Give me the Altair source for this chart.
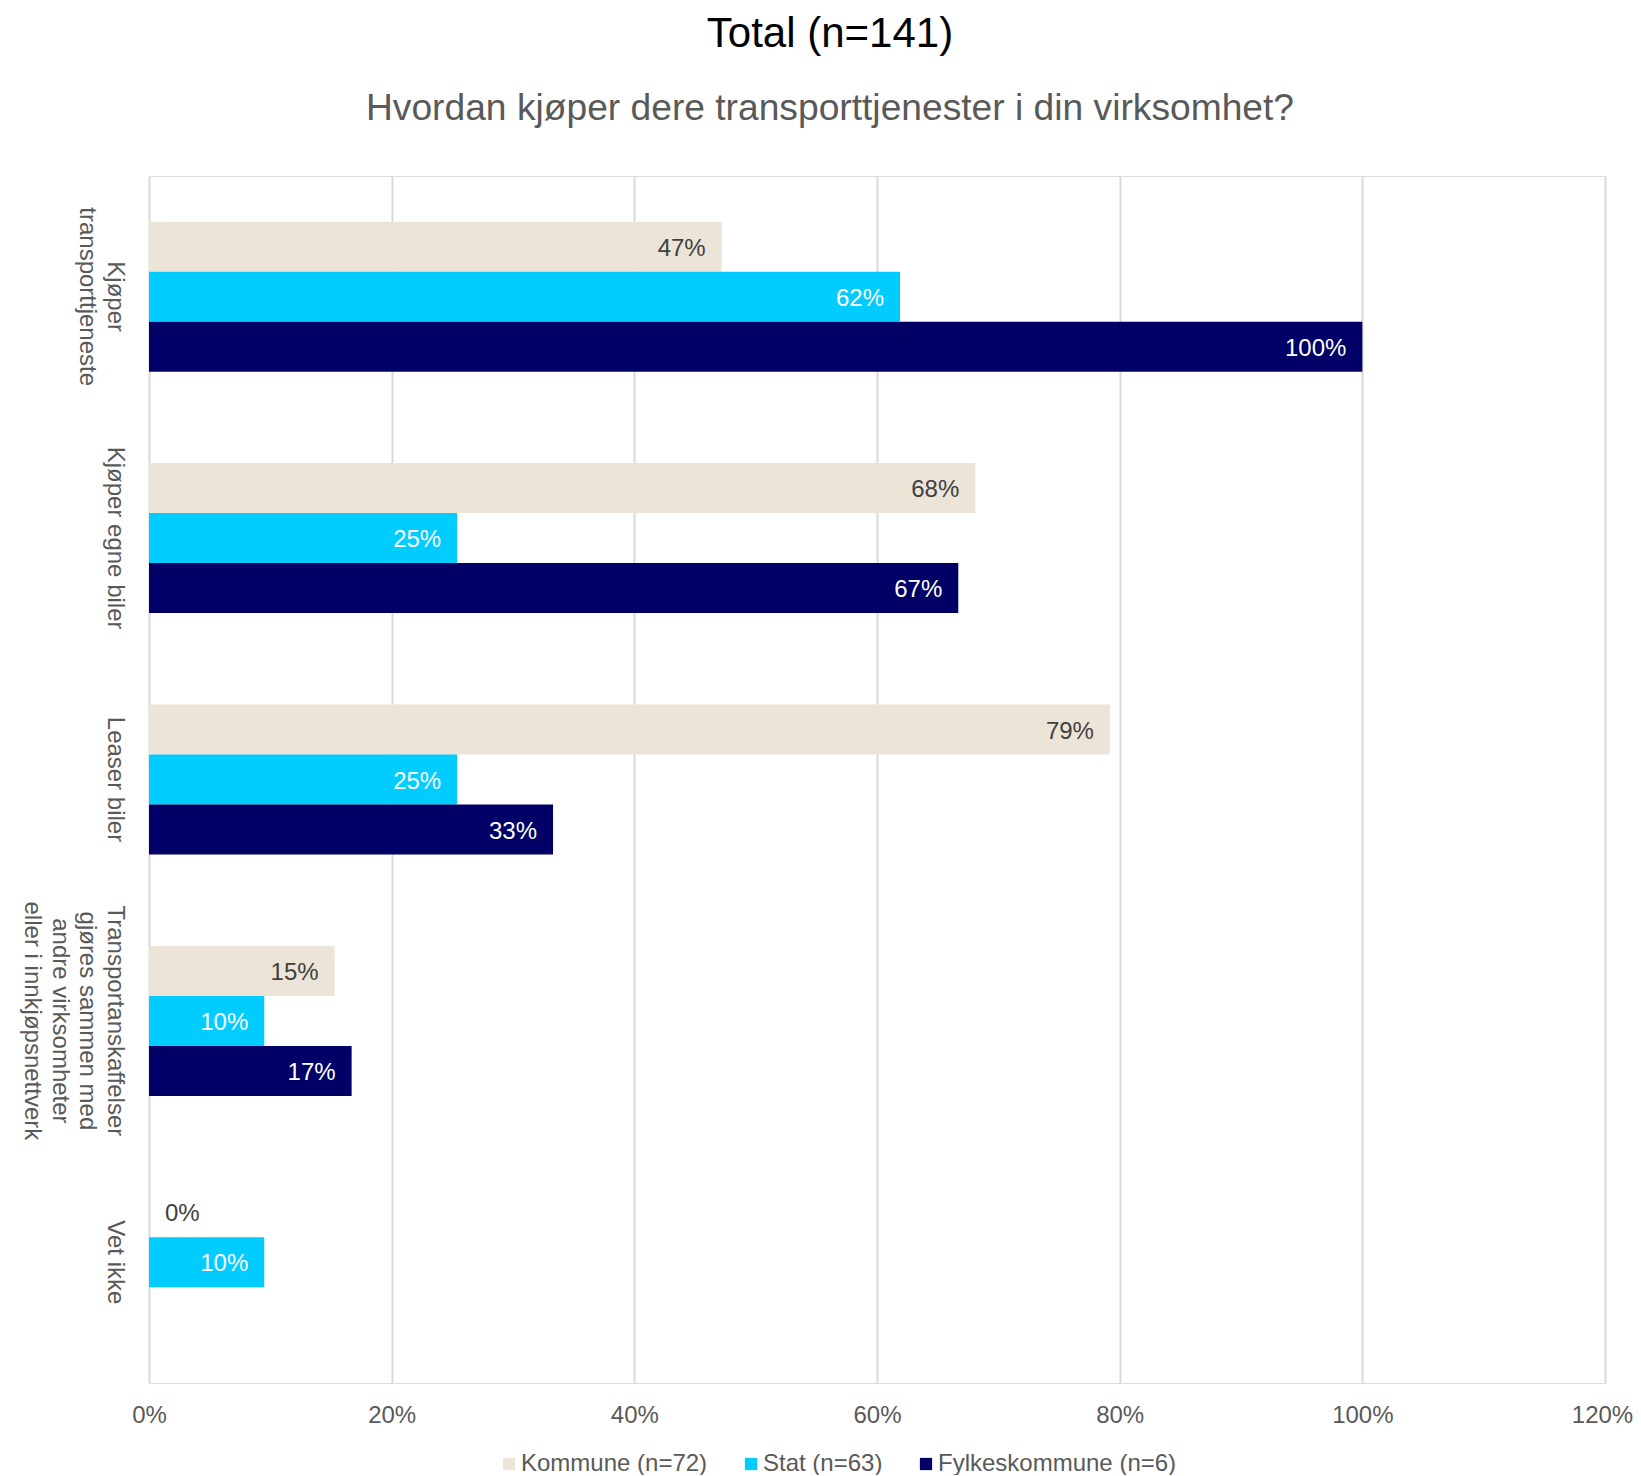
import altair as alt
import pandas as pd

# ---- data ----
categories = [
    "Kjøper\ntransporttjeneste",
    "Kjøper egne biler",
    "Leaser biler",
    "Transportanskaffelser\ngjøres sammen med\nandre virksomheter\neller i innkjøpsnettverk",
    "Vet ikke",
]
groups = ["Kommune (n=72)", "Stat (n=63)", "Fylkeskommune (n=6)"]
kommune = [0.472, 0.681, 0.792, 0.153, 0.0]
stat = [0.619, 0.254, 0.254, 0.095, 0.095]
fylke = [1.0, 0.667, 0.333, 0.167, None]
x_ticks = [0, 0.2, 0.4, 0.6, 0.8, 1.0, 1.2]

bar_colors = ["#EDE4D8", "#00CCFF", "#000066"]
label_colors = ["#404040", "#FFFFFF", "#FFFFFF"]

rows = []
for g, series, lc in zip(groups, [kommune, stat, fylke], label_colors):
    for c, v in zip(categories, series):
        if v is None:
            continue
        rows.append({"cat": c, "group": g, "value": v, "lc": lc})
df = pd.DataFrame(rows)

FONT = "Liberation Sans"

y_enc = alt.Y(
    "cat:N",
    sort=categories,
    scale=alt.Scale(paddingInner=0, paddingOuter=0),
    axis=alt.Axis(
        title=None,
        domain=False,
        ticks=False,
        grid=False,
        labelAngle=90,
        labelAlign="center",
        labelBaseline="top",
        labelPadding=23,
        labelFontSize=24,
        labelColor="#595959",
        labelFont=FONT,
        labelLineHeight=27.5,
        labelLimit=0,
        labelOverlap=False,
        labelExpr="split(datum.value, '\\n')",
    ),
)
yoff_enc = alt.YOffset(
    "group:N",
    sort=groups,
    scale=alt.Scale(domain=groups, paddingInner=0, paddingOuter=0.914),
)
x_enc = alt.X(
    "value:Q",
    scale=alt.Scale(domain=[0, 1.2], nice=False),
    axis=alt.Axis(
        title=None,
        domain=False,
        ticks=False,
        grid=True,
        gridColor="#D9D9D9",
        gridWidth=2,
        values=x_ticks,
        format=".0%",
        labelFontSize=24,
        labelColor="#595959",
        labelFont=FONT,
        labelPadding=20,
        labelFlush=False,
        labelOffset={"condition": {"test": "datum.value >= 1.19", "value": -3}, "value": 0},
    ),
)

bars = alt.Chart(df).mark_bar().encode(
    x=x_enc,
    y=y_enc,
    yOffset=yoff_enc,
    color=alt.Color(
        "group:N",
        sort=groups,
        scale=alt.Scale(domain=groups, range=bar_colors),
        legend=alt.Legend(
            title=None,
            orient="none",
            legendX=348,
            legendY=1276,
            direction="horizontal",
            symbolType="square",
            symbolSize=150,
            symbolStrokeWidth=0,
            labelFontSize=24,
            labelColor="#595959",
            labelFont=FONT,
            labelOffset=0,
            labelLimit=0,
            columnPadding=31,
            padding=0,
        ),
    ),
)

labels_in = alt.Chart(df).transform_filter("datum.value > 0").mark_text(
    align="right", baseline="middle", dx=-16, dy=2, fontSize=24, font=FONT
).encode(
    x="value:Q",
    y=alt.Y("cat:N", sort=categories),
    yOffset=alt.YOffset("group:N", sort=groups),
    text=alt.Text("value:Q", format=".0%"),
    color=alt.Color("lc:N", scale=None),
)

labels_out = alt.Chart(df).transform_filter("datum.value == 0").mark_text(
    align="left", baseline="middle", dx=16, dy=2, fontSize=24, font=FONT
).encode(
    x="value:Q",
    y=alt.Y("cat:N", sort=categories),
    yOffset=alt.YOffset("group:N", sort=groups),
    text=alt.Text("value:Q", format=".0%"),
    color=alt.value("#404040"),
)

chart = (
    alt.layer(bars, labels_in, labels_out)
    .properties(
        width=1456,
        height=1207,
        autosize=alt.AutoSizeParams(type="none"),
        padding={"left": 141, "top": 168, "right": 28, "bottom": 92},
        title=alt.TitleParams(
            text="Total (n=141)",
            subtitle="Hvordan kjøper dere transporttjenester i din virksomhet?",
            font=FONT,
            subtitleFont=FONT,
            fontSize=42,
            subtitleFontSize=37.2,
            fontWeight="normal",
            color="#000000",
            subtitleColor="#595959",
            anchor="middle",
            frame="group",
            dx=-47,
            offset=48,
            subtitlePadding=35,
        ),
    )
    .configure_view(stroke="transparent", strokeWidth=0, strokeOpacity=0)
    .configure(background="white")
)

chart.save("out.html", embed_options={"renderer": "svg", "actions": False})
